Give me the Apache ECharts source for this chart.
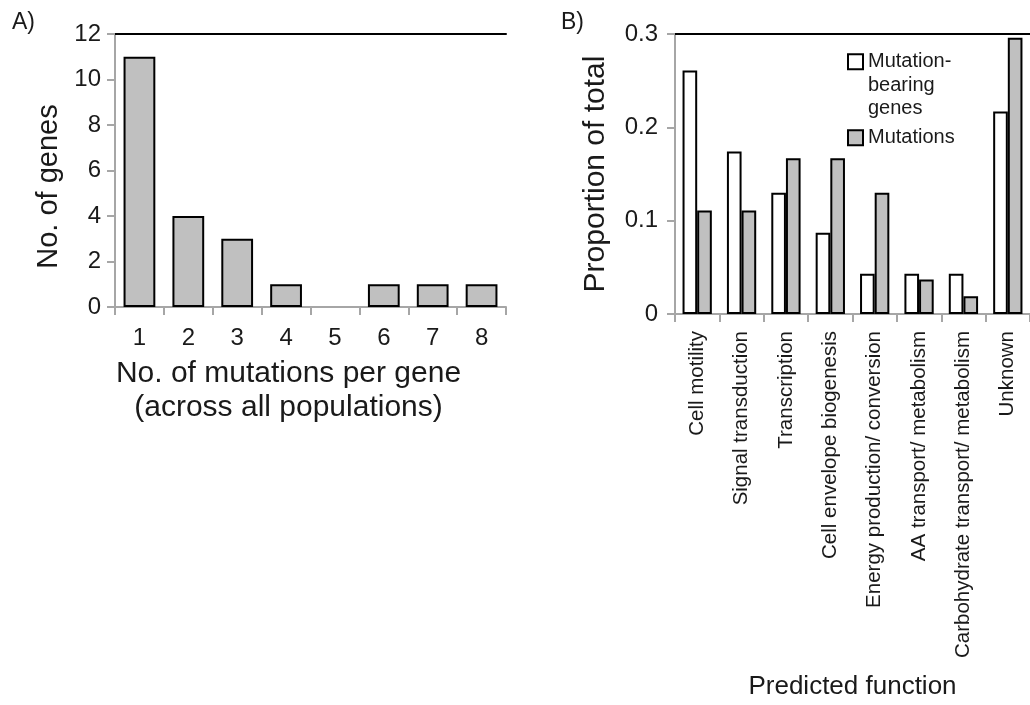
<!DOCTYPE html>
<html>
<head>
<meta charset="utf-8">
<title>Mutations per gene and predicted function</title>
<script src="https://cdn.jsdelivr.net/npm/echarts@6/dist/echarts.min.js"></script>
<style>
  html, body { margin: 0; padding: 0; background: #ffffff; }
  #chart { width: 1030px; height: 705px; }
</style>
</head>
<body>
<div id="chart"></div>
<script>
// Panel A: number of genes carrying a given number of mutations
const mutationCountCategories = ['1', '2', '3', '4', '5', '6', '7', '8'];
const geneCounts = [11, 4, 3, 1, 0, 1, 1, 1];
const countTicks = [0, 2, 4, 6, 8, 10, 12];

// Panel B: share of mutated genes and of mutations by predicted function
const functionCategories = [
  'Cell motility',
  'Signal transduction',
  'Transcription',
  'Cell envelope biogenesis',
  'Energy production/ conversion',
  'AA transport/ metabolism',
  'Carbohydrate transport/ metabolism',
  'Unknown'
];
const geneShare = [0.261, 0.174, 0.130, 0.087, 0.043, 0.043, 0.043, 0.217];
const mutationShare = [0.111, 0.111, 0.167, 0.167, 0.130, 0.037, 0.019, 0.296];
const shareTicks = [0, 0.1, 0.2, 0.3];

const seriesGenes = 'Mutation-bearing genes';
const seriesMutations = 'Mutations';

const FONT = '"Liberation Sans", Arial, Helvetica, sans-serif';
const TEXT = '#1a1a1a';
const AXIS_GREY = '#a6a6a6';
const BAR_GREY = '#c0c0c0';

const chart = echarts.init(document.getElementById('chart'), null, { renderer: 'canvas' });

function greyAxisLine() {
  return { show: true, lineStyle: { color: AXIS_GREY, width: 2 } };
}
function greyTicks() {
  return { show: true, length: 8, lineStyle: { color: AXIS_GREY, width: 2 } };
}
// top frame line of each plot
function frameTop(gridIndex) {
  return {
    type: 'value', gridIndex: gridIndex, position: 'top', min: 0, max: 1,
    axisLine: { show: true, onZero: false, lineStyle: { color: '#000', width: 2 } },
    axisTick: { show: false }, axisLabel: { show: false }, splitLine: { show: false }
  };
}

const option = {
  backgroundColor: '#ffffff',
  animation: false,
  textStyle: { fontFamily: FONT, color: TEXT },
  title: [
    { text: 'A)', left: 12, top: 11, padding: 0,
      textStyle: { fontFamily: FONT, fontSize: 23, fontWeight: 'normal', color: TEXT } },
    { text: 'B)', left: 561, top: 11, padding: 0,
      textStyle: { fontFamily: FONT, fontSize: 23, fontWeight: 'normal', color: TEXT } }
  ],
  legend: {
    orient: 'vertical',
    left: 847,
    top: 3,
    padding: 0,
    itemWidth: 15,
    itemHeight: 15,
    itemGap: 5.5,
    icon: 'rect',
    selectedMode: false,
    textStyle: { fontFamily: FONT, fontSize: 20, lineHeight: 23.5, color: TEXT },
    data: [seriesGenes, seriesMutations],
    // the wrapped label keeps its first line level with the key box
    formatter: function (name) {
      return name === seriesGenes ? '\n\nMutation-\nbearing\ngenes' : name;
    }
  },
  grid: [
    { left: 115, top: 34, width: 391, height: 273, containLabel: false },
    { left: 675, top: 34, width: 355, height: 280, containLabel: false }
  ],
  xAxis: [
    {
      type: 'category', gridIndex: 0, data: mutationCountCategories,
      axisLine: greyAxisLine(), axisTick: greyTicks(),
      axisLabel: { fontFamily: FONT, fontSize: 24, color: TEXT, margin: 19, interval: 0 },
      name: 'No. of mutations per gene\n(across all populations)',
      nameLocation: 'middle', nameGap: 50,
      nameTextStyle: { fontFamily: FONT, fontSize: 30, lineHeight: 34, color: TEXT, padding: [0, 44, 0, 0] }
    },
    frameTop(0),
    {
      type: 'category', gridIndex: 1, data: functionCategories,
      axisLine: greyAxisLine(), axisTick: greyTicks(),
      axisLabel: { fontFamily: FONT, fontSize: 20.5, color: TEXT, margin: 17, rotate: 90, interval: 0 },
      name: 'Predicted function',
      nameLocation: 'middle', nameGap: 360,
      nameTextStyle: { fontFamily: FONT, fontSize: 26, color: TEXT }
    },
    frameTop(1)
  ],
  yAxis: [
    {
      type: 'value', gridIndex: 0,
      min: countTicks[0], max: countTicks[countTicks.length - 1], interval: countTicks[1] - countTicks[0],
      axisLine: greyAxisLine(), axisTick: greyTicks(), splitLine: { show: false },
      axisLabel: { fontFamily: FONT, fontSize: 24, color: TEXT, margin: 14 },
      name: 'No. of genes', nameLocation: 'middle', nameGap: 52,
      nameTextStyle: { fontFamily: FONT, fontSize: 29, color: TEXT, padding: [0, 32, 0, 0] }
    },
    {
      type: 'value', gridIndex: 1,
      min: shareTicks[0], max: shareTicks[shareTicks.length - 1], interval: 0.1,
      axisLine: greyAxisLine(), axisTick: greyTicks(), splitLine: { show: false },
      axisLabel: { fontFamily: FONT, fontSize: 24, color: TEXT, margin: 17,
        formatter: function (v) { return String(Math.round(v * 10) / 10); } },
      name: 'Proportion of total', nameLocation: 'middle', nameGap: 64,
      nameTextStyle: { fontFamily: FONT, fontSize: 30, color: TEXT }
    }
  ],
  series: [
    {
      name: 'No. of genes', type: 'bar', xAxisIndex: 0, yAxisIndex: 0,
      barCategoryGap: '35%',
      data: geneCounts.map(function (v) {
        return v === 0 ? { value: v, itemStyle: { borderWidth: 0 } } : v;
      }),
      itemStyle: { color: BAR_GREY, borderColor: '#000', borderWidth: 2 }
    },
    {
      name: seriesGenes, type: 'bar', xAxisIndex: 2, yAxisIndex: 1,
      barGap: '0%', barCategoryGap: '34%',
      data: geneShare,
      itemStyle: { color: '#ffffff', borderColor: '#000', borderWidth: 2 }
    },
    {
      name: seriesMutations, type: 'bar', xAxisIndex: 2, yAxisIndex: 1,
      barGap: '0%', barCategoryGap: '34%',
      data: mutationShare,
      itemStyle: { color: BAR_GREY, borderColor: '#000', borderWidth: 2 }
    }
  ]
};

chart.setOption(option);
</script>
</body>
</html>
